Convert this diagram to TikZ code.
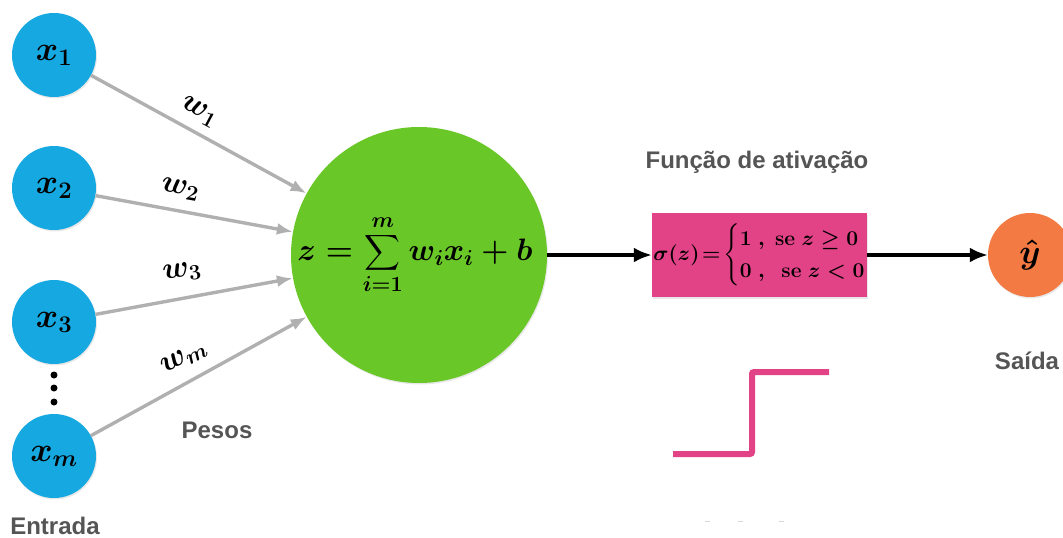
\RequirePackage{fix-cm}
\documentclass[tikz,border=0pt]{standalone}
\usepackage{amsmath}
\usepackage{fontspec}
\newfontfamily\labelfont{Liberation Sans}
\usetikzlibrary{arrows.meta,shadows}
\definecolor{inblue}{RGB}{22,168,224}
\definecolor{sumgreen}{RGB}{106,199,40}
\definecolor{actpink}{RGB}{226,66,134}
\definecolor{outorange}{RGB}{243,122,66}
\definecolor{wgray}{RGB}{176,176,176}
\definecolor{txtgray}{RGB}{85,85,85}
\definecolor{tickgray}{RGB}{215,215,215}
\begin{document}
\begin{tikzpicture}[x=1pt,y=-1pt,
  shade/.style={drop shadow={opacity=0.18,shadow xshift=1pt,shadow yshift=-1.5pt}},
  inp/.style={circle,fill=inblue,minimum size=84pt,inner sep=0pt,shade,
    font=\fontsize{34}{40}\selectfont\boldmath},
  sumnode/.style={circle,fill=sumgreen,minimum size=256pt,inner sep=0pt,shade,
    font=\fontsize{31}{36}\selectfont\boldmath},
  actbox/.style={rectangle,fill=actpink,minimum width=215pt,minimum height=84pt,inner sep=0pt,shade,
    font=\fontsize{21}{25}\selectfont\boldmath},
  outnode/.style={circle,fill=outorange,minimum size=84pt,inner sep=0pt,shade,
    font=\fontsize{34}{40}\selectfont\boldmath},
  wlabel/.style={font=\fontsize{31}{36}\selectfont\boldmath,inner sep=0pt},
  caption/.style={font=\labelfont\bfseries\fontsize{24}{28}\selectfont,text=txtgray,inner sep=0pt},
  warrow/.style={-{Latex[length=16pt,width=12pt]},draw=wgray,line width=3.4pt},
  barrow/.style={-{Latex[length=18pt,width=15pt]},draw=black,line width=4pt},
  dotstyle/.style={circle,fill=black,minimum size=7pt,inner sep=0pt},
]
\useasboundingbox (0,0) rectangle (1063,538);

% inputs
\node[inp] (x1) at (54,55)  {$x_1$};
\node[inp] (x2) at (54,188) {$x_2$};
\node[inp] (x3) at (54,322) {$x_3$};
\node[inp] (xm) at (54,456) {$x_m$};
\node[dotstyle] (d1) at (54,375) {};
\node[dotstyle] (d2) at (54,388) {};
\node[dotstyle] (d3) at (54,402) {};

% summation
\node[sumnode] (sum) at (419,255) {\hspace*{-8pt}$z=\displaystyle\sum_{i=1}^{m} w_i x_i + b$};

% activation
\node[actbox] (act) at (759.5,255) {$\sigma(z)\!=\!\left\{\renewcommand{\arraystretch}{1.3}\begin{array}{@{}l@{}}1\ ,\ \text{\bfseries se}\ z\geq 0\\ 0\ ,\ \ \text{\bfseries se}\ z<0\end{array}\right.$};

% output
\node[outnode] (out) at (1030,255) {$\hat{y}$};

% weighted connectors
\draw[warrow] (x1) -- (sum);
\draw[warrow] (x2) -- (sum);
\draw[warrow] (x3) -- (sum);
\draw[warrow] (xm) -- (sum);

\node[wlabel,rotate=-28] (w1) at (199,112) {$w_1$};
\node[wlabel,rotate=-10] (w2) at (180,189) {$w_2$};
\node[wlabel,rotate=8]   (w3) at (182,272) {$w_3$};
\node[wlabel,rotate=28]  (wm) at (184,358) {$w_m$};

% main flow
\draw[barrow] (sum) -- (act);
\draw[barrow] (act) -- (out);

% captions
\node[caption] (pesos) at (217,430) {Pesos};
\node[caption] (entrada) at (55,526) {Entrada};
\node[caption] (func) at (757,162) {Função de ativação};
\node[caption] (saida) at (1027,361) {Saída};

% step function
\draw[actpink,line width=6pt,rounded corners=2pt] (673,454) -- (752,454) -- (752,372) -- (829,372);
\draw[tickgray,line width=1pt] (705,521) -- (710,521);
\draw[tickgray,line width=1pt] (738,521) -- (743,521);
\draw[tickgray,line width=1pt] (779,521) -- (784,521);
\end{tikzpicture}
\end{document}
